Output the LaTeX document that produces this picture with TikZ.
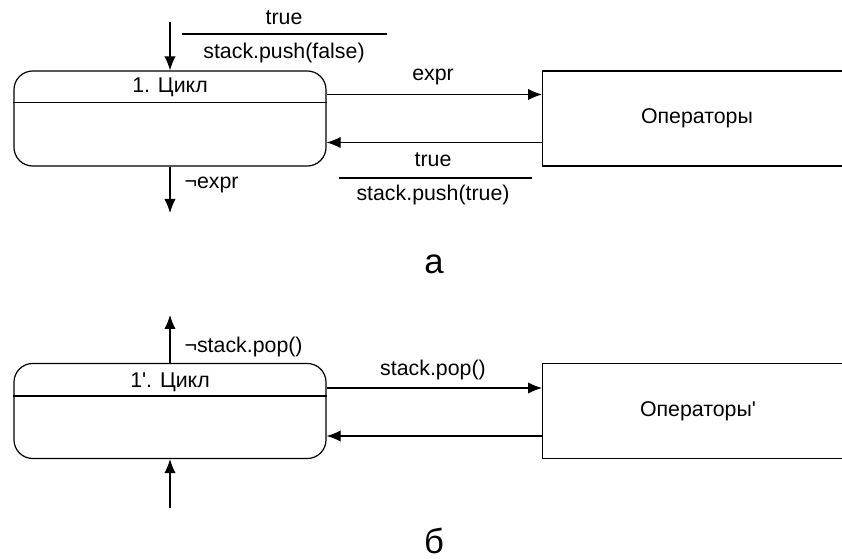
\documentclass[tikz,border=0pt]{standalone}
\usepackage{fontspec}
\setmainfont{Liberation Sans}[Ligatures=TeXOff]
\usetikzlibrary{arrows.meta, positioning}

\begin{document}
\begin{tikzpicture}[x=0.75pt, y=-0.75pt, line width=0.9pt,
  >={Latex[length=10.5pt,width=8.5pt]},
  every node/.style={font=\fontsize{16}{19}\selectfont, inner sep=0pt},
  cyc/.style={draw, rectangle, rounded corners=14pt, minimum width=234pt, minimum height=71.25pt},
  opbox/.style={draw, rectangle, anchor=west, minimum width=260pt, minimum height=71.25pt},
  caption/.style={font=\fontsize{26}{30}\selectfont}]
\clip (0,0) rectangle (842,559);

% (a) loop with the push of a flag
\node[cyc] (c1) at (170,118.5) {};
\node[opbox] (o1) at (542,118.5) {};
\node (ot1) at (697,118.5) {Операторы};
\draw ([yshift=-24pt]c1.north west) -- ([yshift=-24pt]c1.north east);
\node (t1) at (170,87) {1. Цикл};
\coordinate (in1) at (170,22);
\coordinate (out1) at (170,213);
\draw[->] (in1) -- (c1.north);
\draw[->] (c1.south) -- (out1);
\node[anchor=west] (ne1) at (184,185) {¬expr};
\draw[->] ([yshift=18pt]c1.east) -- ([yshift=18pt]o1.west);
\draw[->] ([yshift=-18pt]o1.west) -- ([yshift=-18pt]c1.east);
\node (lx1) at (433,77) {expr};
% guard / action pairs
\node (g1) at (284,18) {true};
\coordinate (b1) at (182,34);
\draw (b1) -- ++(205,0);
\node (a1) at (284,53) {stack.push(false)};
\node (g2) at (433,160) {true};
\coordinate (b2) at (339,178);
\draw (b2) -- ++(193,0);
\node (a2) at (433,195) {stack.push(true)};
\node[caption] (ca) at (434,264) {а};

% (b) loop driven by the stack
\node[cyc] (c2) at (170,411) {};
\node[opbox] (o2) at (542,411) {};
\node (ot2) at (698,411) {Операторы'};
\draw ([yshift=-24.75pt]c2.north west) -- ([yshift=-24.75pt]c2.north east);
\node (t2) at (170,382) {1'. Цикл};
\coordinate (out2) at (170,315);
\coordinate (in2) at (170,508);
\draw[->] (c2.north) -- (out2);
\draw[->] (in2) -- (c2.south);
\node[anchor=west] (ns2) at (184,347) {¬stack.pop()};
\draw[->] ([yshift=17.25pt]c2.east) -- ([yshift=17.25pt]o2.west);
\draw[->] ([yshift=-18.75pt]o2.west) -- ([yshift=-18.75pt]c2.east);
\node (lp2) at (433,370) {stack.pop()};
\node[caption] (cb) at (434,541) {б};
\end{tikzpicture}
\end{document}
